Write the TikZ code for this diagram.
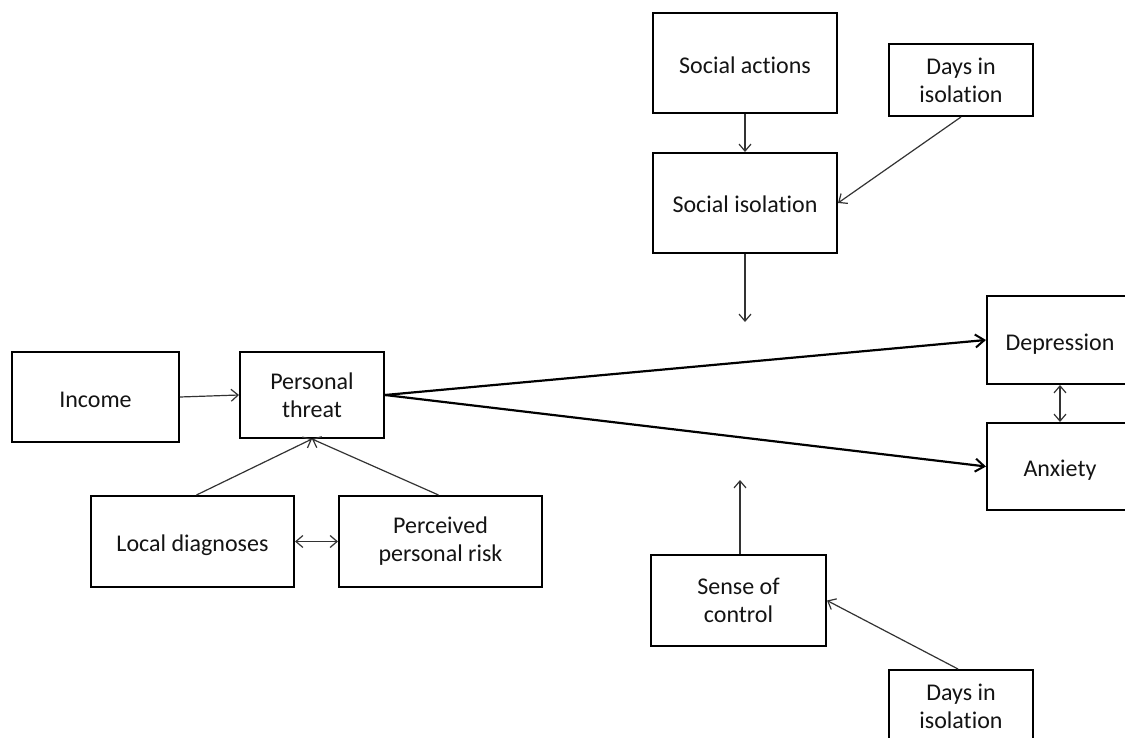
\documentclass[tikz,border=0pt]{standalone}
\usepackage{fontspec}
\setmainfont{Carlito}[Ligatures=NoCommon]
\usetikzlibrary{arrows.meta}
\definecolor{txt}{HTML}{141414}
\definecolor{ln}{HTML}{333333}
\tikzset{
  box/.style={draw=black, line width=2, rectangle, inner sep=0, align=center,
    font=\fontsize{24}{28}\selectfont, text=txt},
  one/.style={text height=20, text depth=0},
  thin/.style={draw=ln, line width=1.2, -{Straight Barb[length=7,width=12,line width=1.2]}},
  thinboth/.style={draw=ln, line width=1.2, {Straight Barb[length=7,width=12,line width=1.2]}-{Straight Barb[length=7,width=12,line width=1.2]}},
  thick/.style={draw=black, line width=2.2, -{Straight Barb[length=9,width=13,line width=2]}}
}
\begin{document}
\begin{tikzpicture}[x=1pt,y=-1pt]
\clip (0,0) rectangle (1125,738);
\fill[white] (0,0) rectangle (1125,738);
\node[box, one, minimum width=184, minimum height=100] (sa) at (745,63.5) {Social actions};
\node[box, minimum width=144, minimum height=72] (d1) at (961,80) {Days in\\isolation};
\node[box, one, minimum width=184, minimum height=100] (si) at (745,203) {Social isolation};
\node[box, one, minimum width=146, minimum height=88] (dep) at (1060,340) {Depression};
\node[box, one, minimum width=146, minimum height=87] (anx) at (1060,466.5) {Anxiety};
\node[box, one, minimum width=167, minimum height=90] (inc) at (95.5,397) {Income};
\node[box, minimum width=144, minimum height=86] (pt) at (312,395) {Personal\\threat};
\node[box, one, minimum width=203, minimum height=91] (ld) at (192.5,541.5) {Local diagnoses};
\node[box, minimum width=203, minimum height=91] (pr) at (440.5,541.5) {Perceived\\personal risk};
\node[box, minimum width=175, minimum height=91] (sc) at (738.5,600.5) {Sense of\\control};
\node[box, minimum width=144, minimum height=72] (d2) at (961,706) {Days in\\isolation};
\coordinate (siend) at (745,322);
\coordinate (scend) at (740,480);
\draw[thin] (sa.south) -- (si.north);
\draw[thin] (d1.south) -- (si.east);
\draw[thin] (si.south) -- (siend);
\draw[thin] (inc.east) -- (pt.west);
\draw[thin] ([xshift=4]ld.north) -- (pt.south);
\draw[thin] ([xshift=-2]pr.north) -- (pt.south);
\draw[thinboth] (ld.east) -- (pr.west);
\draw[thick] (pt.east) -- (dep.west);
\draw[thick] (pt.east) -- (anx.west);
\draw[thinboth] (dep.south) -- (anx.north);
\draw[thin] ([xshift=1.5]sc.north) -- (scend);
\draw[thin] ([xshift=-3]d2.north) -- (sc.east);
\end{tikzpicture}
\end{document}
